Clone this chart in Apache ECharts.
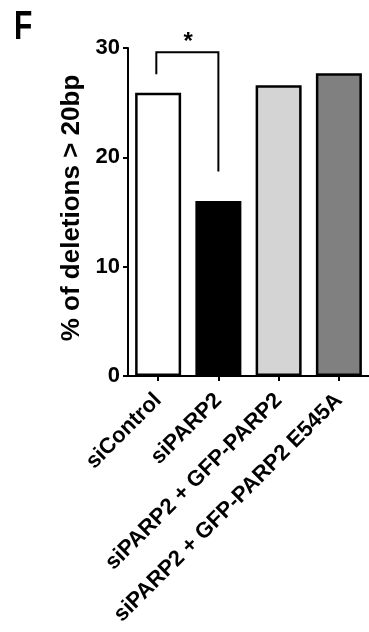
<!DOCTYPE html>
<html>
<head>
<meta charset="utf-8">
<script src="https://cdn.jsdelivr.net/npm/echarts@6/dist/echarts.min.js"></script>
<style>html,body{margin:0;padding:0;background:#fff}#c{width:369px;height:632px}</style>
</head>
<body>
<div id="c"></div>
<script>
const categories = ['siControl', 'siPARP2', 'siPARP2 + GFP-PARP2', 'siPARP2 + GFP-PARP2 E545A'];
const values = [25.9, 16.0, 26.6, 27.7];
const barColors = ['#ffffff', '#000000', '#d4d4d4', '#808080'];
const yTicks = [0, 10, 20, 30];
const yTitle = '% of deletions > 20bp';
const panelLabel = 'F';
// significance bracket between siControl (0) and siPARP2 (1)
const bracketX = [-0.03, -0.03, 1, 1];
const bracketY = [27.6, 29.6, 29.6, 18.7];
const starPos = [0.5, 30.5];
const starText = '*';

const chart = echarts.init(document.getElementById('c'));
const FONT = '"Liberation Sans", Arial, sans-serif';
chart.setOption({
  animation: false,
  grid: { left: 128, right: -3, top: 48, bottom: 256, containLabel: false },
  xAxis: [{
    type: 'category',
    data: categories,
    axisLine: { onZero: false, lineStyle: { color: '#000', width: 2 } },
    axisTick: { show: true, alignWithLabel: true, length: 5, lineStyle: { color: '#000', width: 2 } },
    axisLabel: { rotate: 45, interval: 0, margin: 21, color: '#000', fontFamily: FONT, fontWeight: 'bold', fontSize: 22 }
  }, {
    type: 'value', min: -0.5, max: 3.5, show: false, position: 'bottom'
  }],
  yAxis: {
    type: 'value', min: 0, max: 30, interval: 10,
    name: yTitle, nameLocation: 'middle', nameGap: 33,
    nameTextStyle: { color: '#000', fontFamily: FONT, fontWeight: 'bold', fontSize: 26, padding: [0, 0, 0, 8] },
    axisLine: { show: true, onZero: false, lineStyle: { color: '#000', width: 2 } },
    axisTick: { show: true, length: 5, lineStyle: { color: '#000', width: 2 } },
    axisLabel: { margin: 8, color: '#000', fontFamily: FONT, fontWeight: 'bold', fontSize: 22,
      formatter: v => yTicks.includes(v) ? String(v) : '' },
    splitLine: { show: false }
  },
  series: [{
    type: 'bar',
    xAxisIndex: 0,
    barWidth: 46,
    data: values.map((v, i) => ({ value: v, itemStyle: { color: barColors[i] } })),
    itemStyle: { borderColor: '#000', borderWidth: 2.5 }
  }, {
    type: 'custom',
    xAxisIndex: 1,
    clip: false,
    data: [0],
    renderItem: function (params, api) {
      const pts = bracketX.map((x, i) => api.coord([x, bracketY[i]]));
      const sp = api.coord(starPos);
      return {
        type: 'group',
        children: [{
          type: 'polyline',
          shape: { points: pts },
          style: { stroke: '#000', lineWidth: 2, fill: null }
        }, {
          type: 'text',
          x: sp[0], y: sp[1],
          style: { text: starText, fill: '#000', font: 'bold 24px "Liberation Sans", Arial, sans-serif', align: 'center', verticalAlign: 'middle' }
        }]
      };
    }
  }],
  graphic: [{
    type: 'text', left: 14, top: 8,
    style: { text: panelLabel, fill: '#000', font: 'bold 40px "Liberation Sans Narrow", "Liberation Sans", sans-serif' },
    scaleX: 0.75
  }]
});
</script>
</body>
</html>
